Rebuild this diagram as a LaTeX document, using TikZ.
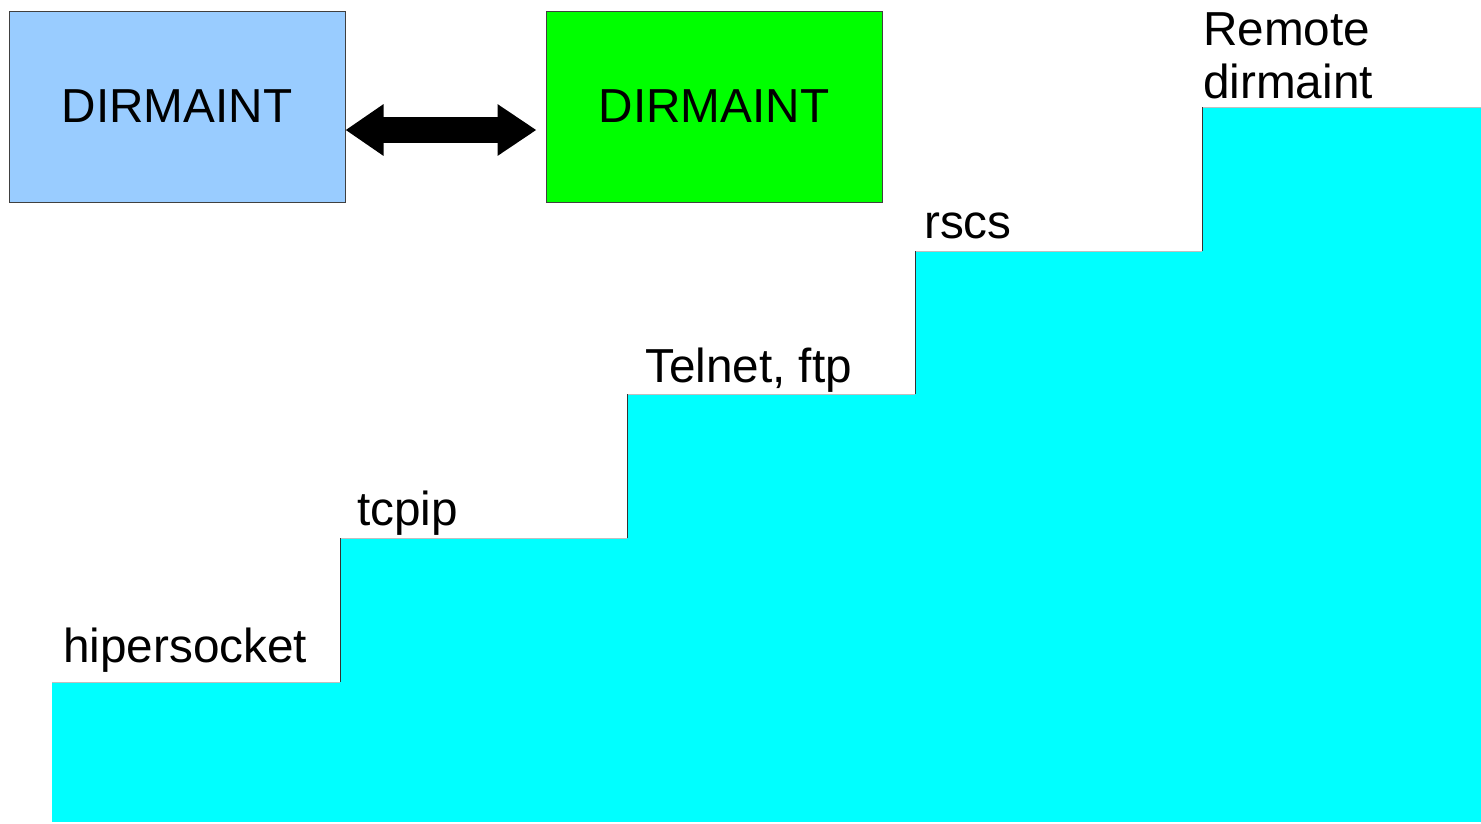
\documentclass[tikz,border=0pt]{standalone}
\usepackage{fontspec}
\setmainfont{Liberation Sans}
\usetikzlibrary{arrows.meta}
\definecolor{boxblue}{HTML}{99CCFF}
\definecolor{boxgreen}{HTML}{00FF00}
\definecolor{stepcyan}{HTML}{00FFFF}
\begin{document}
\begin{tikzpicture}[x=1pt,y=-1pt,
  bigfont/.style={font=\fontsize{47.7}{54}\selectfont},
  dirbox/.style={draw=black!75, line width=1pt, minimum width=336pt, minimum height=191pt, inner sep=0pt, bigfont},
  steplabel/.style={anchor=base west, inner sep=0pt, bigfont},
  stepfill/.style={fill=stepcyan},
  stepedge/.style={draw=black!80, line width=1pt}]
\useasboundingbox (0,0) rectangle (1481,823);
% boxes
\node[dirbox, fill=boxblue] (b1) at (177,106.5) {DIRMAINT};
\node[dirbox, fill=boxgreen] (b2) at (714,106.5) {DIRMAINT};
\draw[line width=26pt, {Triangle[length=38pt,width=49pt]}-{Triangle[length=39pt,width=49pt]}, shorten >=9pt]
  ([yshift=-23.5pt]b1.east) -- ([yshift=-23.5pt]b2.west);
% steps
\fill[stepfill] (52,682) rectangle (1481,822);
\fill[stepfill] (340,538) rectangle (1481,682);
\fill[stepfill] (627,394) rectangle (1481,538);
\fill[stepfill] (915,251) rectangle (1481,394);
\fill[stepfill] (1202,107) rectangle (1481,251);
\draw[draw=black!25, line width=0.6pt] (52,682) -- (340,682) (340,538) -- (627,538) (627,394) -- (915,394) (915,251) -- (1202,251) (1202,107) -- (1481,107);
\draw[stepedge] (340,538) -- (340,682);
\draw[stepedge] (627,394) -- (627,538);
\draw[stepedge] (915,251) -- (915,394);
\draw[stepedge] (1202,107) -- (1202,251);
% labels
\node[steplabel] (l1) at (63,662) {hipersocket};
\node[steplabel] (l2) at (357,525) {tcpip};
\node[steplabel] (l3) at (645,382) {Telnet, ftp};
\node[steplabel] (l4) at (924,238) {rscs};
\node[steplabel] (l5a) at (1203,45) {Remote};
\node[steplabel] (l5b) at (1203,98) {dirmaint};
\end{tikzpicture}
\end{document}
